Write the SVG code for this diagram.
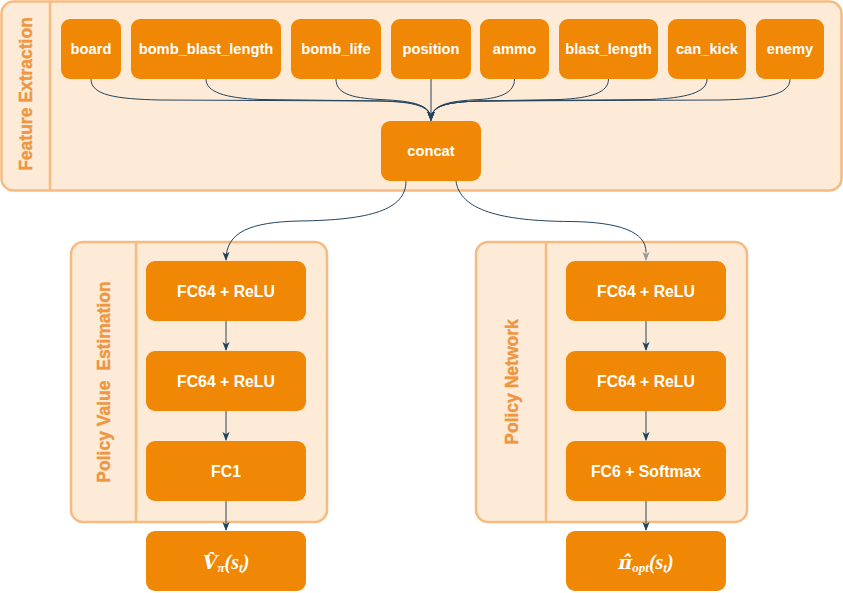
<svg xmlns="http://www.w3.org/2000/svg" width="843" height="593" viewBox="0 0 843 593">
<defs>
<marker id="arr" viewBox="0 0 10 10" refX="9" refY="5" markerWidth="9" markerHeight="9" markerUnits="userSpaceOnUse" orient="auto">
<path d="M0,1 L10,5 L0,9 L2.5,5 z" fill="#23445d"/>
</marker>
<marker id="arrg" viewBox="0 0 10 10" refX="9" refY="5" markerWidth="9" markerHeight="9" markerUnits="userSpaceOnUse" orient="auto">
<path d="M0,1 L10,5 L0,9 L2.5,5 z" fill="#999999"/>
</marker>
</defs>
<style>
.cont{fill:#fdebd8;stroke:#f6bb80;stroke-width:2.5}
.div{stroke:#f6bb80;stroke-width:2.5}
.ctitle{fill:#ee9640;stroke:#ee9640;stroke-width:0.4;font-family:"Liberation Sans",Arial,sans-serif;font-weight:700;font-size:17.5px;text-anchor:middle;white-space:pre}
.node{fill:#f08705}
.t{fill:#ffffff;font-family:"Liberation Sans",Arial,sans-serif;font-weight:bold;font-size:14.7px;text-anchor:middle;dominant-baseline:central}
.t2{fill:#ffffff;font-family:"Liberation Sans",Arial,sans-serif;font-weight:bold;font-size:15.8px;text-anchor:middle;dominant-baseline:central}
.m{fill:#ffffff;font-family:"Liberation Serif","Times New Roman",serif;font-weight:bold;font-style:italic;font-size:20px;text-anchor:middle}
.acc{font-family:"DejaVu Serif",serif;font-size:19px}
.e{fill:none;stroke:#23445d;stroke-width:1;marker-end:url(#arr)}
.e0{fill:none;stroke:#23445d;stroke-width:1}
</style>

<g id="feature-extraction">
<rect class="cont" x="1.5" y="1.5" width="840" height="189" rx="12"/>
<line class="div" x1="50" y1="1.5" x2="50" y2="190.5"/>
<text class="ctitle" font-size="18" transform="translate(32,94) rotate(-90)">Feature Extraction</text>
</g>

<g id="policy-value">
<rect class="cont" x="71" y="242" width="256" height="280" rx="12"/>
<line class="div" x1="136" y1="242" x2="136" y2="522"/>
<text class="ctitle" transform="translate(110,382) rotate(-90)">Policy Value  Estimation</text>
</g>

<g id="policy-network">
<rect class="cont" x="476" y="242" width="271" height="280" rx="12"/>
<line class="div" x1="546" y1="242" x2="546" y2="522"/>
<text class="ctitle" transform="translate(518,382) rotate(-90)">Policy Network</text>
</g>

<g id="board"><rect class="node" x="61" y="19" width="60" height="60" rx="9"/><text class="t" x="91" y="49">board</text></g>
<g id="bomb_blast_length"><rect class="node" x="131" y="19" width="150" height="60" rx="9"/><text class="t" x="206" y="49">bomb_blast_length</text></g>
<g id="bomb_life"><rect class="node" x="291" y="19" width="90" height="60" rx="9"/><text class="t" x="336" y="49">bomb_life</text></g>
<g id="position"><rect class="node" x="391" y="19" width="80" height="60" rx="9"/><text class="t" x="431" y="49">position</text></g>
<g id="ammo"><rect class="node" x="480" y="19" width="69" height="60" rx="9"/><text class="t" x="514.5" y="49">ammo</text></g>
<g id="blast_length"><rect class="node" x="559" y="19" width="99" height="60" rx="9"/><text class="t" x="608.5" y="49">blast_length</text></g>
<g id="can_kick"><rect class="node" x="668" y="19" width="78" height="60" rx="9"/><text class="t" x="707" y="49">can_kick</text></g>
<g id="enemy"><rect class="node" x="756" y="19" width="68" height="60" rx="9"/><text class="t" x="790" y="49">enemy</text></g>
<g id="concat"><rect class="node" x="381" y="121" width="100" height="60" rx="9"/><text class="t" x="431" y="151">concat</text></g>

<g id="fc64-v1"><rect class="node" x="146" y="261" width="160" height="60" rx="9"/><text class="t2" x="226" y="291">FC64 + ReLU</text></g>
<g id="fc64-v2"><rect class="node" x="146" y="351" width="160" height="60" rx="9"/><text class="t2" x="226" y="381">FC64 + ReLU</text></g>
<g id="fc1"><rect class="node" x="146" y="441" width="160" height="60" rx="9"/><text class="t2" x="226" y="471">FC1</text></g>
<g id="v-out"><rect class="node" x="146" y="531" width="160" height="60" rx="9"/>
<text class="m" x="226" y="569"><tspan class="acc">V&#770;</tspan><tspan font-size="13" dy="3">π</tspan><tspan dy="-3">(s</tspan><tspan font-size="13" dy="3">t</tspan><tspan dy="-3">)</tspan></text>
</g>

<g id="fc64-p1"><rect class="node" x="566" y="261" width="160" height="60" rx="9"/><text class="t2" x="646" y="291">FC64 + ReLU</text></g>
<g id="fc64-p2"><rect class="node" x="566" y="351" width="160" height="60" rx="9"/><text class="t2" x="646" y="381">FC64 + ReLU</text></g>
<g id="fc6"><rect class="node" x="566" y="441" width="160" height="60" rx="9"/><text class="t2" x="646" y="471">FC6 + Softmax</text></g>
<g id="pi-out"><rect class="node" x="566" y="531" width="160" height="60" rx="9"/>
<text class="m" x="646" y="569"><tspan class="acc">π&#770;</tspan><tspan font-size="13" dy="3">opt</tspan><tspan dy="-3">(s</tspan><tspan font-size="13" dy="3">t</tspan><tspan dy="-3">)</tspan></text>
</g>

<g id="connectors">
<path class="e" d="M91 79 C91 95 115 99 160 100 L380 101 C415 102 431 106 431 120"/>
<path class="e" d="M206 79 C206 92 225 98 260 99.5 L385 101 C418 102 431 106 431 120"/>
<path class="e" d="M336 79 C336 93 350 98 380 99.5 C415 101 431 105 431 120"/>
<path class="e" d="M431 79 L431 120"/>
<path class="e" d="M514.5 79 C514.5 93 500 98 480 99.5 C447 101 431 105 431 120"/>
<path class="e" d="M608.5 79 C608.5 93 590 98 560 99.5 L480 101 C445 102 431 106 431 120"/>
<path class="e" d="M707 79 C707 93 685 98 650 99.5 L480 101 C445 102 431 106 431 120"/>
<path class="e" d="M790 79 C790 95 765 99 720 100 L480 101 C445 102 431 106 431 120"/>
<path class="e" d="M406 181 C406 210 370 220 300 221 C250 222 226 232 226 260"/>
<path class="e0" d="M456 181 C460 210 500 221 570 221.5 C620 222 646 232 646 252"/>
<path d="M646 252 L646 260" fill="none" stroke="#999999" stroke-width="1" marker-end="url(#arrg)"/>
<path class="e" d="M226 321 L226 350"/>
<path class="e" d="M226 411 L226 440"/>
<path class="e" d="M226 501 L226 530"/>
<path class="e" d="M646 321 L646 350"/>
<path class="e" d="M646 411 L646 440"/>
<path class="e" d="M646 501 L646 530"/>
</g>
</svg>
